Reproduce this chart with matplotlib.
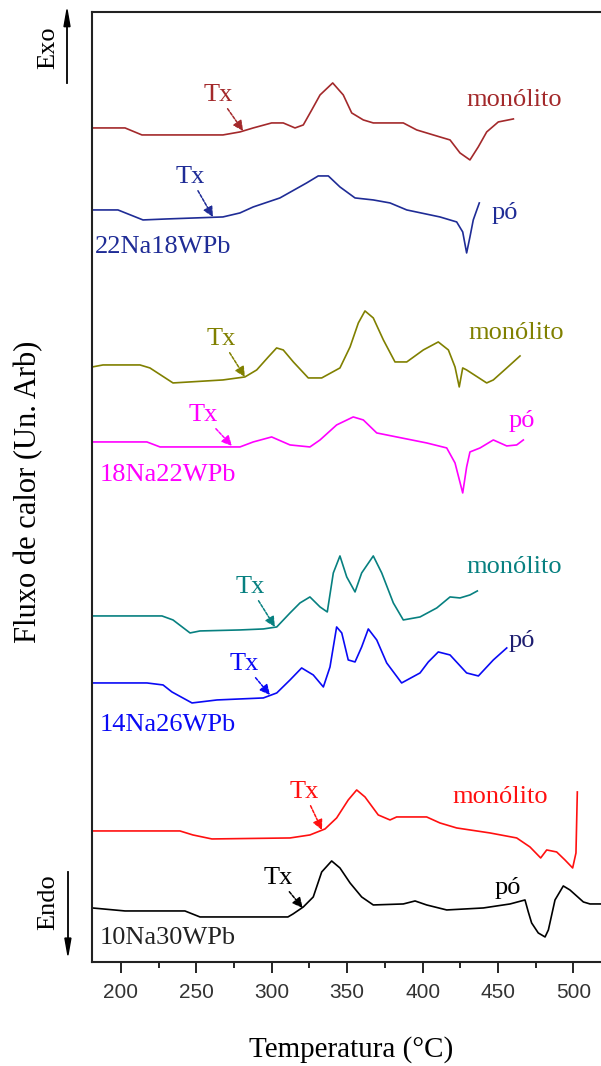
import matplotlib.pyplot as plt
from matplotlib.ticker import MultipleLocator

# DSC curves, temperature in degC, heat flow in arbitrary units (already stacked)
t_22_mono = [181, 202.7, 213.9, 267.6, 278.9, 287.7, 299.9, 307.6, 315.4, 320.9, 326.5,
             332.0, 340.4, 347.4, 353.0, 360.7, 367.3, 387.2, 396.1, 411.5, 418.2, 424.8,
             431.4, 436.9, 442.5, 450.2, 460.2]
f_22_mono = [83.4, 83.4, 82.7, 82.7, 83.0, 83.4, 83.9, 83.9, 83.4, 83.7, 85.2, 86.7, 87.9,
             86.7, 84.9, 84.2, 83.9, 83.9, 83.2, 82.5, 82.2, 80.9, 80.2, 81.5, 83.0, 84.0,
             84.3]

t_22_po = [181, 198, 214.6, 230.5, 267.6, 278.9, 287.7, 305.4, 323.1, 330.8, 337.5, 345.2,
           355.2, 367.3, 378.4, 389.5, 411.5, 422.6, 426.6, 429.2, 431.4, 433.6, 437.6]
f_22_po = [75.2, 75.2, 74.2, 74.3, 74.5, 74.9, 75.5, 76.4, 77.9, 78.6, 78.6, 77.5, 76.4,
           76.2, 75.9, 75.2, 74.5, 74.0, 73.0, 70.9, 72.5, 74.2, 75.9]

t_18_mono = [181, 188.1, 212.6, 219.2, 234.5, 267.6, 282.2, 290.0, 297.7, 303.2, 307.6,
             314.3, 324.2, 333.1, 345.2, 351.9, 357.4, 361.8, 367.3, 374.0, 381.7, 389.5,
             400.5, 410.4, 417.1, 421.5, 424.3, 426.6, 429.2, 442.5, 446.9, 455.8, 464.6]
f_18_mono = [59.5, 59.7, 59.7, 59.4, 57.9, 58.2, 58.5, 59.2, 60.5, 61.4, 61.2, 60.0, 58.4,
             58.4, 59.4, 61.5, 63.9, 65.1, 64.4, 62.2, 60.0, 60.0, 61.2, 62.0, 61.2, 59.5,
             57.5, 59.4, 59.2, 57.9, 58.2, 59.4, 60.6]

t_18_po = [181, 217.2, 225.9, 278.9, 287.7, 299.9, 312.1, 325.3, 332.0, 343.0, 354.0,
           360.7, 369.6, 382.8, 402.7, 416.0, 421.5, 426.6, 429.2, 431.4, 438.1, 446.9,
           455.8, 462.4, 466.8]
f_18_po = [52.0, 52.0, 51.5, 51.5, 52.0, 52.5, 51.7, 51.5, 52.2, 53.7, 54.5, 54.2, 52.9,
           52.5, 51.9, 51.4, 49.9, 46.9, 49.5, 51.0, 51.4, 52.2, 51.6, 51.7, 52.2]

t_14_mono = [181, 227.2, 234.5, 245.8, 252.4, 278.9, 294.4, 303.3, 312.1, 318.7, 325.3,
             332.0, 336.8, 340.8, 345.2, 349.7, 355.2, 359.6, 367.3, 372.9, 380.6, 387.2,
             398.3, 409.4, 418.2, 424.8, 431.4, 436.3]
f_14_mono = [34.6, 34.6, 34.2, 32.9, 33.1, 33.2, 33.3, 33.5, 34.9, 35.9, 36.5, 35.5, 35.0,
             38.9, 40.6, 38.5, 37.0, 38.9, 40.6, 38.9, 35.9, 34.2, 34.5, 35.4, 36.5, 36.4,
             36.7, 37.1]

t_14_po = [181, 217.2, 227.9, 233.8, 247.1, 263.7, 278.9, 294.4, 303.3, 312.1, 319.8,
           327.5, 334.2, 338.6, 343.0, 346.4, 350.7, 355.2, 359.6, 364.0, 369.6, 376.2,
           386.1, 398.3, 403.8, 410.4, 418.2, 429.2, 437.0, 446.9, 455.8]
f_14_po = [27.9, 27.9, 27.7, 27.0, 25.9, 26.2, 26.3, 26.4, 26.9, 28.2, 29.4, 28.7, 27.5,
           29.5, 33.5, 32.9, 30.2, 30.0, 31.5, 33.3, 32.2, 29.9, 27.9, 28.9, 30.0, 31.0,
           30.7, 28.9, 28.6, 30.2, 31.4]

t_10_mono = [181, 239.1, 247.7, 260.3, 312.1, 325.3, 335.3, 343.0, 350.7, 356.3, 361.8,
             370.6, 378.4, 382.8, 402.7, 411.5, 422.6, 444.7, 462.4, 471.2, 478.3, 482.3,
             488.9, 494.4, 499.5, 501.7, 502.6]
f_10_mono = [13.1, 13.1, 12.7, 12.3, 12.4, 12.7, 13.3, 14.4, 16.2, 17.2, 16.5, 14.7, 14.2,
             14.5, 14.5, 13.9, 13.4, 12.9, 12.4, 11.5, 10.4, 11.2, 11.0, 10.2, 9.4, 10.9,
             17.0]

t_10_po = [181, 202.7, 242.4, 252.4, 310.7, 314.1, 320.9, 327.5, 333.1, 339.7, 345.2,
           351.9, 359.6, 367.3, 387.2, 395.0, 402.7, 416.0, 440.3, 458.0, 467.9, 470.1,
           472.3, 476.7, 481.2, 483.4, 487.8, 493.3, 497.7, 506.6, 511.0, 518.3]
f_10_po = [5.4, 5.1, 5.1, 4.5, 4.5, 4.8, 5.5, 6.5, 9.0, 10.1, 9.4, 7.9, 6.5, 5.7, 5.8,
           6.1, 5.7, 5.2, 5.4, 5.8, 6.2, 5.0, 3.9, 2.9, 2.5, 3.2, 6.2, 7.6, 7.2, 6.0, 5.8,
           5.8]

# onset of crystallisation (Tx) for each curve
tx_22_mono, tx_22_po = (281, 83.1), (261, 74.5)
tx_18_mono, tx_18_po = (282.2, 58.5), (273.6, 51.6)
tx_14_mono, tx_14_po = (302.1, 33.5), (298.8, 26.7)
tx_10_mono, tx_10_po = (333.3, 13.2), (320.5, 5.4)

brown, navy, olive, magenta = '#A3292B', '#1F2C96', '#808000', '#FF00FF'
teal, blue, red, black = '#078080', '#0A0AF5', '#FF1010', '#000000'

serif = 'Liberation Serif'

fig = plt.figure(figsize=(6.01, 10.66), dpi=100)
ax = fig.add_axes([0.1531, 0.0976, 0.8469, 0.8912])

curves = [
    (t_22_mono, f_22_mono, brown), (t_22_po, f_22_po, navy),
    (t_18_mono, f_18_mono, olive), (t_18_po, f_18_po, magenta),
    (t_14_mono, f_14_mono, teal), (t_14_po, f_14_po, blue),
    (t_10_mono, f_10_mono, red), (t_10_po, f_10_po, black),
]
for t, f, c in curves:
    ax.plot(t, f, color=c, lw=1.2, solid_joinstyle='round')

# Tx arrows
tx_marks = [
    (tx_22_mono, (264.3, 86.7), brown), (tx_22_po, (245.8, 78.5), navy),
    (tx_18_mono, (266.3, 62.3), olive), (tx_18_po, (254.4, 54.7), magenta),
    (tx_14_mono, (285.5, 37.5), teal), (tx_14_po, (281.6, 29.8), blue),
    (tx_10_mono, (321.4, 17.0), red), (tx_10_po, (304.1, 8.4), black),
]
for xy, xyt, c in tx_marks:
    ax.annotate('Tx', xy=xy, xytext=xyt, color=c, fontsize=19, family=serif,
                ha='center', va='center',
                arrowprops=dict(arrowstyle='-|>', color=c, lw=1.1, ls=(0, (2, 1)),
                                mutation_scale=15, shrinkA=0, shrinkB=0))

# sample form labels
forms = [
    ('monólito', 460.6, 86.2, brown), ('pó', 454.6, 74.9, navy),
    ('monólito', 461.9, 62.9, olive), ('pó', 465.9, 54.1, magenta),
    ('monólito', 460.6, 39.5, teal), ('pó', 465.9, 32.1, '#1E1E70'),
    ('monólito', 451.3, 16.5, red), ('pó', 456.6, 7.4, black),
]
for s, x, y, c in forms:
    ax.text(x, y, s, color=c, fontsize=19, family=serif, ha='center', va='center')

# glass compositions
comps = [
    ('22Na18WPb', 182.8, 71.5, navy), ('18Na22WPb', 186.1, 48.7, magenta),
    ('14Na26WPb', 186.1, 23.7, blue), ('10Na30WPb', 186.1, 2.4, '#222222'),
]
for s, x, y, c in comps:
    ax.text(x, y, s, color=c, fontsize=19, family=serif, ha='left', va='center')

ax.set_xlim(180.8, 518.3)
ax.set_ylim(0, 95)
ax.set_yticks([])
ax.xaxis.set_major_locator(MultipleLocator(50))
ax.xaxis.set_minor_locator(MultipleLocator(25))
ax.tick_params(axis='x', which='major', direction='out', length=8, width=1.2,
               pad=7, labelsize=15, labelcolor='#333333')
ax.tick_params(axis='x', which='minor', direction='out', length=4.5, width=1.2)
for lab in ax.get_xticklabels():
    lab.set_family('Liberation Sans')
ax.spines['right'].set_visible(False)
for side in ('left', 'top', 'bottom'):
    ax.spines[side].set_linewidth(1.5)
    ax.spines[side].set_color('#222222')

fig.text(0.584, 0.015, 'Temperatura (°C)', fontsize=21, family=serif,
         ha='center', va='center')
fig.text(0.047, 0.539, 'Fluxo de calor (Un. Arb)', fontsize=22, family=serif,
         rotation=90, ha='center', va='center')

# Exo / Endo direction arrows
fig.text(0.080, 0.955, 'Exo', fontsize=19, family=serif, rotation=90,
         ha='center', va='center')
fig.text(0.080, 0.154, 'Endo', fontsize=19, family=serif, rotation=90,
         ha='center', va='center')
fig.add_artist(plt.Line2D([0.1115, 0.1115], [0.922, 0.975], color='black', lw=1.3,
                          transform=fig.transFigure))
fig.patches.append(plt.Polygon([[0.1065, 0.975], [0.1165, 0.975], [0.1115, 0.991]],
                               closed=True, color='black', transform=fig.transFigure))
fig.add_artist(plt.Line2D([0.113, 0.113], [0.182, 0.120], color='black', lw=1.3,
                          transform=fig.transFigure))
fig.patches.append(plt.Polygon([[0.108, 0.120], [0.118, 0.120], [0.113, 0.104]],
                               closed=True, color='black', transform=fig.transFigure))

fig.savefig('out.png', dpi=100)
